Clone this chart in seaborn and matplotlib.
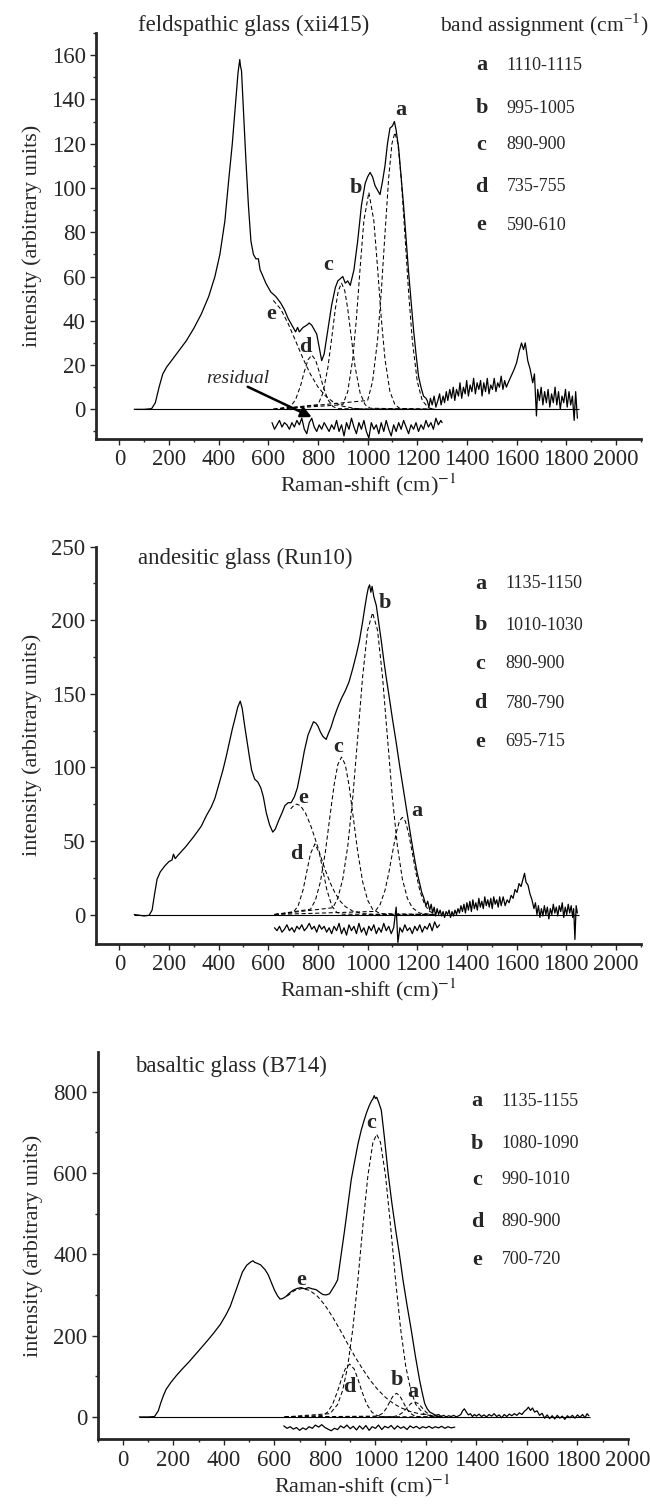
import numpy as np
import pandas as pd
import matplotlib
matplotlib.use('Agg')
import matplotlib.pyplot as plt
import seaborn as sns
from matplotlib.ticker import MultipleLocator

# ---------------- feldspathic glass (xii415) ----------------
fel_spec = [(60,0),(100,0),(130,0.3),(145,3),(160,10),(175,16),(190,19),(210,22),(240,26.5),(270,31),
    (300,36.6),(330,43),(360,51),(385,60),(405,70),(425,85),(440,103),(455,120),(468,138),(478,152),
    (485,158),(488,155),(492,153),(500,135),(510,112),(520,92),(530,76),(540,70),(550,68),(560,68),
    (567,63),(575,61),(590,57),(610,53),(630,51),(650,48),(665,45),(680,41),(695,38),(710,35),
    (718,37),(725,35),(740,37),(755,38),(765,39),(775,38),(785,36),(795,34),(805,28),(815,22),
    (825,25),(840,36),(855,47),(870,55),(880,58),(890,59),(900,60),(910,57),(920,58),(930,56),
    (945,63),(960,76),(975,92),(990,102),(1000,105),(1010,107),(1020,105),(1030,101),(1040,99),(1050,97),
    (1060,103),(1070,110),(1080,120),(1090,127),(1100,128),(1108,130),(1115,126),(1125,118),(1135,105),(1145,92),
    (1155,77),(1165,62),(1175,49),(1185,36),(1195,25),(1205,15),(1215,10),(1225,6),(1235,5),
    (1240,4),(1247,1),(1253,5),(1260,2),(1268,6),(1275,1),(1283,4),(1290,7),(1296,2),(1304,6),
    (1310,3),(1317,8),(1323,4),(1331,9),(1338,5),(1345,10),(1351,4),(1358,9),(1366,6),(1372,12),
    (1379,5),(1386,10),(1393,7),(1399,13),(1406,6),(1413,11),(1420,8),(1427,14),(1434,7),(1441,12),
    (1448,9),(1455,13),(1461,6),(1468,12),(1475,8),(1482,14),(1489,7),(1496,11),(1503,9),(1510,14),
    (1517,8),(1524,12),(1531,10),(1538,15),(1545,9),(1552,13),(1559,10),(1566,12),(1574,14),(1582,16),
    (1590,18),(1600,21),(1610,26),(1620,30),(1628,27),(1635,30),(1645,22),(1655,18),(1665,12),(1672,16),
    (1680,-3),(1685,9),(1692,4),(1699,10),(1706,2),(1713,8),(1720,3),(1727,9),(1734,1),(1741,7),
    (1748,3),(1755,10),(1762,2),(1769,8),(1776,0),(1783,6),(1790,3),(1797,9),(1804,1),(1811,8),
    (1818,2),(1825,6),(1832,-5),(1838,8),(1845,-4)]
fel_resid = [(615,-6),(625,-9),(635,-7),(645,-5),(655,-8),(665,-6),(675,-7),(685,-9),(695,-6),(705,-8),
    (715,-5),(725,-7),(735,-4),(745,-9),(755,-11),(765,-6),(775,-4),(785,-8),(795,-10),(805,-7),
    (815,-9),(825,-6),(835,-8),(845,-10),(855,-7),(865,-9),(875,-5),(885,-10),(895,-7),(905,-12),
    (915,-6),(925,-9),(935,-4),(945,-8),(955,-11),(965,-6),(975,-9),(985,-5),(995,-10),(1005,-13),
    (1015,-6),(1025,-9),(1035,-7),(1045,-11),(1055,-6),(1065,-10),(1075,-5),(1085,-9),(1095,-12),(1105,-7),
    (1115,-10),(1125,-6),(1135,-9),(1145,-5),(1155,-8),(1165,-11),(1175,-7),(1185,-9),(1195,-6),(1205,-10),
    (1215,-7),(1225,-9),(1235,-5),(1245,-8),(1255,-6),(1265,-9),(1275,-4),(1285,-7),(1295,-5),(1300,-6)]
fel_a = [(620,0),(1000,4.0),(1020,12.6),(1040,31.2),(1055,53.0),(1070,79.4),(1085,104.7),(1098,120),(1110,125),
    (1122,120),(1135,104.7),(1150,79.4),(1165,53.0),(1180,31.2),(1200,12.6),(1220,4.0),(1245,0.7),(1270,0)]
fel_b = [(620,0),(900,2.1),(920,8.0),(940,22.7),(955,41.2),(970,64.1),(985,85.3),(1005,98),(1025,85.3),
    (1040,64.1),(1055,41.2),(1070,22.7),(1090,8.0),(1110,2.1),(1130,0.4),(1270,0)]
fel_c = [(620,0),(800,2.1),(820,7.3),(840,18.9),(855,31.8),(870,45.4),(882,53.6),(895,57),(908,53.6),
    (920,45.4),(935,31.8),(950,18.9),(970,7.3),(990,2.1),(1010,0.5),(1270,0)]
fel_d = [(620,0),(690,1.3),(710,4.4),(730,10.7),(745,17.0),(760,22.4),(775,24.5),(790,22.4),(805,17.0),
    (820,10.7),(840,4.4),(860,1.3),(880,0.3),(1270,0)]
fel_e = [(620,49.2),(650,45.3),(680,38.7),(710,30.9),(740,22.9),(770,15.8),(800,10.1),(830,6.1),
    (860,3.4),(900,1.4),(950,0.4),(1000,0),(1270,0)]
fel_ranges = ['1110-1115', '995-1005', '890-900', '735-755', '590-610']
fel_letter_pos = [(1134,135),(951,100),(842,65),(751,28),(610,43)]

# ---------------- andesitic glass (Run10) ----------------
and_spec = [(60,0),(80,-0.5),(100,-1),(120,-0.5),(132,3),(142,14),(152,24),(165,29),(183,33),(200,36),
    (212,37),(218,41),(225,38),(240,41),(267,46),(300,53),(330,60),(350,67),(370,73),(385,79),
    (400,88),(417,98),(430,107),(442,116),(455,126),(467,134),(477,141),(487,145),(495,140),(505,128),
    (515,117),(525,106),(533,98),(545,92),(558,90),(570,86),(580,80),(592,69),(605,61),(618,56),
    (628,58),(642,64),(655,69),(667,74),(680,76),(692,76),(705,80),(717,86),(730,97),(745,111),
    (760,122),(772,127),(782,131),(792,130),(800,128),(810,124),(820,121),(833,119),(842,123),(852,127),
    (865,134),(880,141),(895,147),(910,152),(925,158),(940,167),(955,177),(967,186),(980,199),(990,210),
    (998,218),(1003,222),(1008,224),(1013,219),(1018,223),(1025,216),(1035,210),(1045,198),(1055,186),(1065,173),
    (1075,161),(1085,150),(1100,133),(1115,117),(1130,100),(1145,84),(1160,68),(1175,52),(1190,37),(1200,28),
    (1210,21),(1218,15),(1225,12),(1235,6),(1242,9),(1250,3),(1256,7),(1262,1),(1268,5),(1274,-1),
    (1280,4),(1286,0),(1292,3),(1298,-1),(1304,2),(1310,-2),(1316,2),(1322,0),(1328,3),(1334,-2),
    (1340,2),(1346,-1),(1352,3),(1358,0),(1364,4),(1370,1),(1376,6),(1382,2),(1388,7),(1394,1),
    (1400,8),(1406,3),(1412,9),(1418,2),(1424,10),(1430,4),(1436,8),(1442,3),(1448,11),(1454,5),
    (1460,9),(1466,4),(1472,12),(1478,6),(1484,10),(1490,5),(1496,11),(1502,4),(1508,12),(1514,7),
    (1520,10),(1526,5),(1532,12),(1538,6),(1546,12),(1554,6),(1562,10),(1570,8),(1578,13),(1586,11),
    (1594,17),(1602,15),(1610,21),(1618,19),(1626,24),(1632,28),(1638,22),(1646,20),(1654,14),(1662,10),
    (1670,4),(1676,8),(1682,0),(1688,6),(1694,-2),(1700,4),(1706,-1),(1712,6),(1718,0),(1724,5),
    (1730,-3),(1736,4),(1742,0),(1748,7),(1754,1),(1760,5),(1766,-1),(1772,6),(1778,2),(1784,8),
    (1790,-2),(1796,5),(1802,0),(1808,7),(1814,1),(1820,6),(1826,-2),(1830,4),(1835,-17),(1840,6),(1845,1)]
and_resid = [(625,-9),(635,-11),(645,-8),(655,-12),(665,-10),(675,-7),(685,-11),(695,-9),(705,-12),(715,-8),
    (725,-10),(735,-7),(745,-11),(755,-9),(765,-6),(775,-10),(785,-8),(795,-12),(805,-7),(815,-10),
    (825,-8),(835,-12),(845,-9),(855,-13),(865,-8),(875,-11),(885,-6),(895,-13),(905,-9),(915,-14),
    (925,-7),(935,-11),(945,-8),(955,-13),(965,-6),(975,-12),(985,-9),(995,-14),(1005,-8),(1015,-11),
    (1025,-7),(1035,-13),(1045,-9),(1055,-12),(1065,-6),(1075,-11),(1085,-8),(1095,-13),(1105,-9),(1115,5),
    (1122,-19),(1130,-9),(1140,-12),(1150,-7),(1160,-11),(1170,-9),(1180,-13),(1190,-8),(1200,-11),(1210,-7),
    (1220,-12),(1230,-8),(1240,-10),(1250,-6),(1260,-11),(1270,-5),(1280,-9),(1290,-7)]
and_a = [(625,0),(1030,2.1),(1050,6.6),(1070,16.4),(1085,28.0),(1100,41.9),(1115,55.3),(1128,63.4),(1140,66),
    (1152,63.4),(1165,55.3),(1180,41.9),(1195,28.0),(1210,16.4),(1230,6.6),(1250,2.1),(1270,0.5)]
and_b = [(625,0),(860,4.6),(880,11.1),(900,24.1),(920,46.4),(940,79.2),(960,120.1),(980,161.6),(1000,193.2),
    (1020,205),(1040,193.2),(1060,161.6),(1080,120.1),(1100,79.2),(1120,46.4),(1140,24.1),(1160,11.1),
    (1180,4.6),(1210,0.9),(1270,0)]
and_c = [(625,0),(770,3.6),(790,9.8),(810,22.3),(830,42.8),(850,68.9),(865,88.0),(880,101.9),(895,107),
    (910,101.9),(925,88.0),(940,68.9),(960,42.8),(980,22.3),(1000,9.8),(1020,3.6),(1050,0.6),(1270,0)]
and_d = [(625,0),(700,1.4),(720,5.8),(740,16.7),(755,29.1),(770,41.4),(788,48),(806,41.4),(821,29.1),
    (836,16.7),(856,5.8),(876,1.4),(900,0.2),(1270,0)]
and_e = [(690,71.8),(705,74.5),(715,75),(730,73.8),(750,68.9),(770,60.8),(790,50.8),(810,40.1),(830,30.0),
    (850,21.3),(870,14.2),(890,9.0),(910,5.4),(940,2.3),(980,0.6),(1020,0.1),(1270,0)]
and_ranges = ['1135-1150', '1010-1030', '890-900', '780-790', '695-715']
and_letter_pos = [(1200,70),(1071,212),(881,114),(714,41),(739,79)]

# ---------------- basaltic glass (B714) ----------------
bas_spec = [(65,0),(100,0),(125,1),(140,15),(150,35),(160,52),(171,68),(190,85),(212,102),(235,118),
    (261,135),(285,152),(310,170),(335,188),(359,206),(385,227),(408,251),(425,272),(441,300),(457,328),
    (473,356),(490,373),(506,381),(515,384),(522,380),(531,378),(545,374),(563,362),(575,350),(588,330),
    (600,312),(612,298),(622,290),(632,291),(645,296),(660,305),(675,312),(690,316),(705,318),(720,315),
    (735,318),(750,315),(765,313),(780,306),(792,301),(805,300),(818,303),(830,315),(840,325),(850,337),
    (864,398),(878,460),(891,522),(904,583),(918,630),(931,672),(944,706),(954,727),(964,747),(975,765),
    (985,778),(990,782),(995,790),(1000,783),(1005,786),(1012,775),(1023,755),(1035,690),(1050,600),(1065,526),
    (1080,460),(1095,400),(1109,337),(1125,275),(1142,213),(1158,150),(1175,90),(1185,60),(1195,33),(1205,20),
    (1215,12),(1227,8),(1240,4),(1250,6),(1260,1),(1270,4),(1280,0),(1290,3),(1300,1),(1310,4),
    (1320,0),(1330,3),(1338,6),(1345,15),(1352,20),(1360,12),(1368,5),(1376,8),(1384,1),(1392,6),
    (1400,2),(1410,7),(1420,1),(1430,5),(1440,0),(1450,6),(1460,2),(1470,8),(1480,1),(1490,5),
    (1500,-2),(1510,6),(1520,1),(1530,7),(1540,3),(1550,8),(1560,4),(1570,10),(1580,6),(1590,14),
    (1598,18),(1606,24),(1614,16),(1622,22),(1630,12),(1640,15),(1650,4),(1660,9),(1670,-3),(1680,5),
    (1690,-4),(1700,3),(1710,-5),(1720,4),(1730,-3),(1740,2),(1750,-6),(1760,3),(1770,-2),(1780,4),
    (1790,-3),(1800,5),(1810,-1),(1820,6),(1830,-2),(1838,8),(1845,3)]
bas_resid = [(637,-22),(650,-28),(662,-24),(675,-30),(687,-26),(700,-33),(712,-27),(725,-31),(737,-24),(750,-28),
    (762,-20),(775,-25),(787,-19),(800,-26),(812,-30),(825,-34),(837,-28),(850,-31),(862,-22),(875,-27),
    (887,-20),(900,-29),(912,-23),(925,-32),(937,-22),(950,-30),(962,-21),(975,-33),(987,-24),(1000,-28),
    (1012,-20),(1025,-31),(1037,-23),(1050,-27),(1062,-21),(1075,-30),(1087,-22),(1100,-28),(1112,-24),(1125,-31),
    (1137,-22),(1150,-27),(1162,-23),(1175,-29),(1187,-24),(1200,-27),(1212,-23),(1225,-28),(1237,-24),(1250,-27),
    (1262,-23),(1275,-28),(1287,-24),(1300,-27),(1314,-25)]
bas_a = [(640,0),(1070,0.7),(1090,3.5),(1110,12.0),(1125,22.4),(1140,32.7),(1155,37),(1170,32.7),(1185,22.4),
    (1200,12.0),(1220,3.5),(1240,0.7),(1265,0)]
bas_b = [(640,0),(1010,2.0),(1030,9.7),(1045,23.1),(1060,41.4),(1072,53.7),(1083,58),(1094,53.7),(1106,41.4),
    (1121,23.1),(1136,9.7),(1156,2.0),(1180,0.2),(1265,0)]
bas_c = [(640,0),(820,8.1),(850,30.5),(870,65),(890,124.5),(910,215),(930,334),(950,469),(970,593),(990,675),
    (1005,695),(1020,675),(1040,593),(1060,469),(1080,334),(1100,215),(1120,124.5),(1140,65),(1160,30.5),
    (1190,8.1),(1220,1.7),(1265,0)]
bas_d = [(640,0),(790,3.4),(810,11.6),(830,30.7),(850,63.3),(865,92.5),(880,117.5),(898,130),(916,117.5),
    (931,92.5),(946,63.3),(966,30.7),(986,11.6),(1006,3.4),(1030,0.6),(1265,0)]
bas_e = [(650,297),(680,311),(710,316),(740,311),(770,297),(800,275),(830,246),(860,214),(890,180),(920,147),
    (950,117),(980,89.5),(1010,66.6),(1040,48),(1070,33.6),(1100,22.8),(1140,12.9),(1180,6.9),(1220,3.5),
    (1265,1.5)]
bas_ranges = ['1135-1155', '1080-1090', '990-1010', '890-900', '700-720']
bas_letter_pos = [(1149,62),(1085,90),(984,723),(898,74),(706,337)]

letters = ['a', 'b', 'c', 'd', 'e']

sns.set_style('ticks')
plt.rcParams['font.family'] = ['Liberation Serif', 'DejaVu Serif']
plt.rcParams['mathtext.fontset'] = 'stix'

fig = plt.figure(figsize=(6.5, 15.05), dpi=100)


def to_df(pts):
    return pd.DataFrame(pts, columns=['shift', 'intensity'])


def draw_panel(ax, spec, resid, bands, ranges, letter_pos, title, title_xy,
               list_x, list_y, xlim, ylim, ymajor, yminor):
    sp = to_df(spec)
    ax.hlines(0, sp['shift'].min(), sp['shift'].max() + 5, color='black', lw=0.8)
    for b in bands:
        sns.lineplot(data=to_df(b), x='shift', y='intensity', ax=ax, color='black',
                     lw=0.75, linestyle=(0, (4, 2.5)), sort=False, estimator=None)
    sns.lineplot(data=sp, x='shift', y='intensity', ax=ax, color='black', lw=0.9,
                 sort=False, estimator=None)
    sns.lineplot(data=to_df(resid), x='shift', y='intensity', ax=ax, color='black', lw=0.9,
                 sort=False, estimator=None)
    for l, (lx, ly) in zip(letters, letter_pos):
        ax.text(lx, ly, l, fontsize=16, fontweight='bold', ha='center', va='center')
    for i, (l, r) in enumerate(zip(letters, ranges)):
        ax.text(list_x[0], list_y[i], l, fontsize=16, fontweight='bold', ha='center', va='center',
                clip_on=False)
        ax.text(list_x[1], list_y[i], r, fontsize=13, ha='left', va='center', clip_on=False)
    ax.text(title_xy[0], title_xy[1], title, fontsize=16.5, ha='left', va='center', clip_on=False)

    ax.set_xlim(*xlim)
    ax.set_ylim(*ylim)
    ax.xaxis.set_major_locator(MultipleLocator(200))
    ax.xaxis.set_minor_locator(MultipleLocator(100))
    ax.yaxis.set_major_locator(MultipleLocator(ymajor))
    ax.yaxis.set_minor_locator(MultipleLocator(yminor))
    ax.tick_params(which='major', direction='out', length=4.5, width=1.0, labelsize=16.5, pad=3)
    ax.tick_params(which='minor', direction='out', length=2.5, width=1.0)
    sns.despine(ax=ax)
    for s in ['left', 'bottom']:
        ax.spines[s].set_linewidth(2.0)
    ax.set_xlabel('Raman-shift (cm)$^{-1}$', fontsize=16, labelpad=1)
    ax.set_ylabel('intensity (arbitrary units)', fontsize=16, labelpad=7)


ax1 = fig.add_axes([0.1477, 0.7083, 0.838, 0.2698])
draw_panel(ax1, fel_spec, fel_resid, [fel_a, fel_b, fel_c, fel_d, fel_e], fel_ranges, fel_letter_pos,
           'feldspathic glass (xii415)', (75, 173.5), (1459, 1560),
           [155.5, 136, 119.4, 100.5, 83.2], (-94, 2100), (-13.4, 170), 20, 10)
ax1.text(2132, 173.5, 'band assignment (cm$^{\\mathregular{-1}}$)', fontsize=15.5, ha='right',
         va='center', clip_on=False)
ax1.text(475, 14, 'residual', fontsize=14, style='italic', ha='center', va='center')
ax1.annotate('', xy=(775, -3.5), xytext=(517, 10.2),
             arrowprops=dict(arrowstyle='-|>', color='black', lw=1.8, mutation_scale=16,
                             shrinkA=0, shrinkB=0))

ax2 = fig.add_axes([0.1477, 0.3728, 0.838, 0.264])
draw_panel(ax2, and_spec, and_resid, [and_a, and_b, and_c, and_d, and_e], and_ranges, and_letter_pos,
           'andesitic glass (Run10)', (75, 241.7), (1455, 1556),
           [224.7, 196.5, 170.5, 143.4, 117.4], (-94, 2100), (-20, 250), 50, 25)

ax3 = fig.add_axes([0.1503, 0.04365, 0.8158, 0.2575])
draw_panel(ax3, bas_spec, bas_resid, [bas_a, bas_b, bas_c, bas_d, bas_e], bas_ranges, bas_letter_pos,
           'basaltic glass (B714)', (48, 862), (1402, 1500),
           [776, 672, 583, 480, 386], (-100, 2000), (-55, 898), 200, 100)

fig.savefig('out.png', dpi=100)
